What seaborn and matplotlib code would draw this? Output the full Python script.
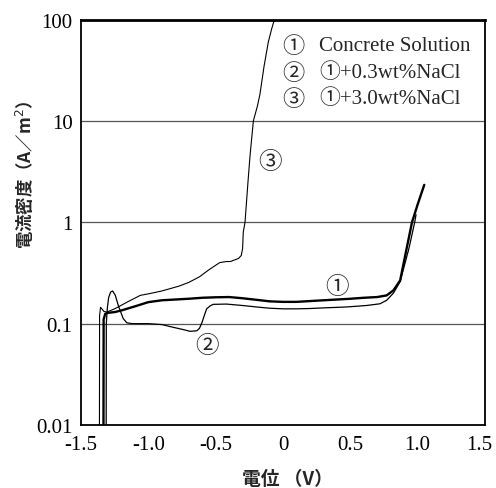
import numpy as np
import pandas as pd
import matplotlib
matplotlib.use('Agg')
import matplotlib.pyplot as plt
import matplotlib.transforms as mtransforms
import seaborn as sns
from matplotlib.ticker import FixedLocator, NullLocator

### data (potential V, current density A/m2) ###

# (1) Concrete Solution
pot_1 = [-1.334, -1.332, -1.32, -1.3, -1.25, -1.2, -1.1, -1.0, -0.9, -0.8, -0.7, -0.6,
         -0.5, -0.4, -0.3, -0.2, -0.1, 0.0, 0.1, 0.2, 0.3, 0.4, 0.5, 0.6, 0.7, 0.77,
         0.82, 0.87, 0.918, 0.958, 1.0, 1.049]
cur_1 = [0.001, 0.11, 0.125, 0.128, 0.13, 0.135, 0.148, 0.163, 0.17, 0.173, 0.176, 0.18,
         0.182, 0.183, 0.178, 0.172, 0.166, 0.164, 0.164, 0.167, 0.17, 0.173, 0.176, 0.18,
         0.183, 0.19, 0.213, 0.267, 0.55, 1.0, 1.5, 2.34]

# (2) (1)+0.3wt%NaCl
pot_2 = [-1.314, -1.312, -1.305, -1.295, -1.28, -1.265, -1.245, -1.223, -1.2, -1.186,
         -1.16, -1.12, -1.0, -0.9, -0.815, -0.75, -0.69, -0.64, -0.62, -0.6, -0.58,
         -0.567, -0.54, -0.518, -0.42, -0.3, -0.195, -0.1, 0.0, 0.1, 0.2, 0.3, 0.47,
         0.62, 0.72, 0.77, 0.82, 0.87, 0.935, 0.978, 0.988]
cur_2 = [0.001, 0.1, 0.14, 0.18, 0.205, 0.21, 0.19, 0.151, 0.125, 0.112,
         0.102, 0.1, 0.1, 0.098, 0.092, 0.088, 0.084, 0.085, 0.09, 0.104, 0.125,
         0.14, 0.15, 0.155, 0.156, 0.151, 0.146, 0.142, 0.14, 0.14, 0.141, 0.143, 0.146,
         0.151, 0.157, 0.17, 0.2, 0.26, 0.55, 1.0, 1.19]

# (3) (1)+3.0wt%NaCl
pot_3 = [-1.364, -1.362, -1.355, -1.345, -1.33, -1.31, -1.25, -1.15, -1.06, -0.99,
         -0.9, -0.77, -0.7, -0.62, -0.55, -0.47, -0.42, -0.39, -0.35, -0.33, -0.31,
         -0.3, -0.295, -0.282, -0.26, -0.245, -0.22, -0.19, -0.171, -0.14, -0.109,
         -0.085, -0.064]
cur_3 = [0.001, 0.12, 0.145, 0.14, 0.132, 0.13, 0.14, 0.165, 0.19, 0.198,
         0.21, 0.235, 0.255, 0.29, 0.34, 0.4, 0.41, 0.41, 0.43, 0.44, 0.47,
         0.55, 0.8, 1.0, 2.5, 4.5, 10.0, 14.0, 18.4, 35.0, 60.0, 80.0, 100.0]

legend_marks = ['\u2460', '\u2461', '\u2462']
legend_texts = ['Concrete Solution', '\u2460+0.3wt%NaCl', '\u2460+3.0wt%NaCl']

x_ticks = [-1.5, -1.0, -0.5, 0.0, 0.5, 1.0, 1.5]
x_ticklabels = ['-1.5', '-1.0', '-0.5', '0', '0.5', '1.0', '1.5']
y_ticks = [0.01, 0.1, 1, 10, 100]
y_ticklabels = ['0.01', '0.1', '1', '10', '100']

sns.set_theme(style='white')
plt.rcParams['font.family'] = ['Liberation Serif', 'Noto Sans CJK JP', 'DejaVu Sans']

df1 = pd.DataFrame({'pot': pot_1, 'cur': cur_1})
df2 = pd.DataFrame({'pot': pot_2, 'cur': cur_2})
df3 = pd.DataFrame({'pot': pot_3, 'cur': cur_3})

fig = plt.figure(figsize=(4.96, 4.89), dpi=100)
ax = fig.add_axes([0.1633, 0.1288, 0.8145, 0.8292])

sns.lineplot(data=df3, x='pot', y='cur', ax=ax, color='black', lw=0.8, sort=False, estimator=None)
sns.lineplot(data=df2, x='pot', y='cur', ax=ax, color='black', lw=0.9, sort=False, estimator=None)
sns.lineplot(data=df1, x='pot', y='cur', ax=ax, color='black', lw=1.7, sort=False, estimator=None)

ax.set_yscale('log')
ax.set_xlim(-1.5, 1.5)
ax.set_ylim(0.01, 100)

ax.xaxis.set_major_locator(FixedLocator(x_ticks))
ax.set_xticklabels(x_ticklabels)
ax.yaxis.set_major_locator(FixedLocator(y_ticks))
ax.yaxis.set_minor_locator(NullLocator())
ax.set_yticklabels(y_ticklabels)
ax.tick_params(axis='x', direction='in', length=5, width=1, color='black', pad=7, labelsize=15, labelcolor='black')
ax.tick_params(axis='y', length=0, pad=6, labelsize=15, labelcolor='black')

# last x label sits a bit left so it stays inside the figure
last = ax.get_xticklabels()[-1]
last.set_transform(last.get_transform() + mtransforms.ScaledTranslation(-6 / 100, 0, fig.dpi_scale_trans))

# grid lines
for gy in [0.1, 1, 10]:
    ax.axhline(gy, color='#555555', lw=0.9, zorder=0)

for side in ['left', 'right', 'bottom']:
    ax.spines[side].set_color('black')
    ax.spines[side].set_linewidth(1.3)
ax.spines['top'].set_color('black')
ax.spines['top'].set_linewidth(2.0)

# axis labels
ax.set_xlabel('電位 （V）', family=['Noto Sans CJK JP'], fontweight='bold', fontsize=13.5, va='top')
ax.xaxis.set_label_coords(0.51, -0.108)
ax.set_ylabel('電流密度（A／m$^2$）', family=['Noto Sans CJK JP'], fontweight='bold', fontsize=12.5)
ax.yaxis.set_label_coords(-0.112, 0.62)

# legend as text
for i in range(3):
    yy = 0.935 - i * 0.0645
    ax.text(0.497, yy, legend_marks[i], transform=ax.transAxes, fontsize=16,
            family=['Noto Sans CJK JP'], va='center', ha='left')
    ax.text(0.59, yy, legend_texts[i], transform=ax.transAxes, fontsize=15,
            family=['Liberation Serif', 'Noto Sans CJK JP'], va='center', ha='left')

# curve marks
ax.text(-0.097, 3.94, '\u2462', fontsize=17, family=['Noto Sans CJK JP'], ha='center', va='center')
ax.text(-0.567, 0.061, '\u2461', fontsize=17, family=['Noto Sans CJK JP'], ha='center', va='center')
ax.text(0.399, 0.23, '\u2460', fontsize=17, family=['Noto Sans CJK JP'], ha='center', va='center')

fig.savefig('out.png', dpi=100)
